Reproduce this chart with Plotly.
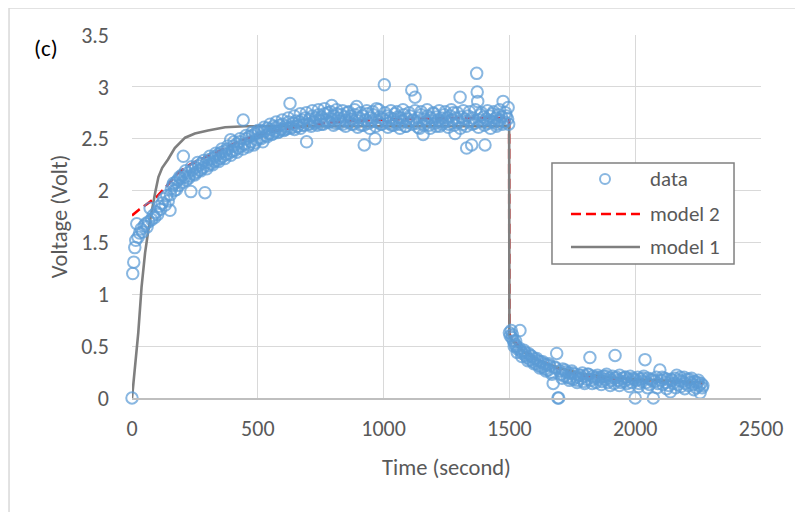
import plotly.graph_objects as go

# ---------------- data ----------------
t_data = [
    0, 3, 7, 11, 15, 19, 24, 30, 36, 42, 48, 54, 60, 66, 72, 78, 84, 90, 96, 102,
    108, 114, 120, 126, 132, 138, 144, 151, 157, 163, 169, 175, 181, 187, 193, 199, 204, 210, 216, 222,
    228, 234, 240, 246, 252, 258, 264, 270, 276, 282, 290, 296, 302, 308, 314, 320, 326, 332, 338, 344,
    350, 356, 362, 368, 374, 380, 386, 392, 398, 404, 410, 416, 422, 428, 434, 442, 448, 454, 460, 466,
    472, 478, 484, 490, 496, 502, 508, 514, 520, 526, 532, 538, 544, 550, 556, 562, 568, 574, 580, 586,
    592, 598, 604, 610, 616, 622, 628, 634, 640, 646, 652, 658, 664, 670, 676, 682, 688, 694, 700, 706,
    712, 718, 724, 730, 736, 742, 748, 754, 760, 766, 772, 778, 784, 794, 796, 802, 808, 814, 820, 826,
    832, 838, 844, 850, 856, 862, 868, 874, 880, 886, 893, 899, 905, 911, 917, 923, 929, 935, 941, 947,
    953, 959, 966, 972, 978, 984, 990, 996, 1003, 1009, 1015, 1021, 1027, 1033, 1039, 1045, 1051, 1057, 1063, 1069,
    1075, 1081, 1087, 1093, 1099, 1105, 1112, 1118, 1125, 1131, 1137, 1143, 1149, 1157, 1163, 1169, 1175, 1181, 1187, 1193,
    1199, 1205, 1211, 1217, 1223, 1229, 1235, 1241, 1247, 1253, 1259, 1265, 1271, 1277, 1284, 1290, 1296, 1304, 1310, 1316,
    1322, 1330, 1336, 1342, 1350, 1356, 1362, 1370, 1372, 1374, 1380, 1386, 1392, 1398, 1403, 1409, 1415, 1421, 1427, 1433,
    1439, 1445, 1451, 1457, 1463, 1469, 1475, 1481, 1487, 1493, 1497,
    1500, 1503, 1507, 1510, 1516, 1522, 1528, 1534, 1542, 1546, 1552, 1558, 1564, 1570, 1576, 1582, 1588, 1594, 1600, 1606,
    1612, 1618, 1624, 1630, 1636, 1642, 1648, 1654, 1660, 1666, 1674, 1680, 1688, 1693, 1696, 1700, 1706, 1712, 1718, 1724,
    1730, 1736, 1742, 1748, 1754, 1760, 1766, 1772, 1778, 1784, 1790, 1796, 1802, 1808, 1814, 1820, 1826, 1832, 1838, 1844,
    1850, 1856, 1862, 1868, 1874, 1880, 1886, 1892, 1898, 1904, 1910, 1916, 1920, 1926, 1932, 1938, 1944, 1950, 1956, 1962,
    1968, 1974, 1980, 1986, 1992, 2000, 2004, 2010, 2016, 2022, 2028, 2034, 2039, 2045, 2051, 2057, 2063, 2072, 2078, 2084,
    2090, 2098, 2104, 2110, 2116, 2122, 2128, 2134, 2140, 2146, 2152, 2158, 2165, 2170, 2176, 2182, 2188, 2194, 2200, 2206,
    2212, 2218, 2224, 2230, 2236, 2242, 2248, 2254, 2258, 2262, 2266,
    # second pass of samples (interleaved)
    153, 165, 177, 189, 201, 213, 225, 237, 249, 261, 273, 285, 297, 309, 321, 333, 345, 357, 369, 381,
    393, 405, 417, 429, 441, 453, 465, 477, 489, 501, 513, 525, 537, 549, 561, 573, 585, 597, 609, 621,
    633, 645, 657, 669, 681, 693, 705, 717, 729, 741, 753, 765, 777, 789, 801, 813, 825, 837, 849, 861,
    873, 885, 897, 909, 921, 933, 945, 957, 969, 981, 993, 1005, 1017, 1029, 1041, 1053, 1065, 1077, 1089, 1101,
    1113, 1125, 1137, 1149, 1161, 1173, 1185, 1197, 1209, 1221, 1233, 1245, 1257, 1269, 1281, 1293, 1305, 1317, 1329, 1341,
    1353, 1365, 1377, 1389, 1401, 1413, 1425, 1437, 1449, 1461, 1473, 1485, 1495,
    1512, 1519, 1525, 1531, 1540, 1549, 1561, 1573, 1585, 1597, 1609, 1621, 1633, 1645, 1657, 1669, 1683, 1709, 1721, 1739,
    1751, 1769, 1781, 1799, 1811, 1829, 1847, 1865, 1883, 1901, 1919, 1937, 1959, 1977, 1995, 2013, 2031, 2049, 2067, 2087,
    2107, 2125, 2143, 2161, 2179, 2197, 2215, 2233, 2251, 2269,
]
v_data = [
    0.00, 1.20, 1.31, 1.45, 1.52, 1.68, 1.55, 1.59, 1.63, 1.60, 1.66, 1.68, 1.65, 1.70, 1.83, 1.72, 1.76, 1.74, 1.79, 1.77,
    1.85, 1.82, 1.88, 1.92, 1.86, 1.95, 1.90, 1.81, 2.02, 2.05, 2.00, 2.08, 2.10, 2.05, 2.12, 2.15, 2.33, 2.13, 2.10, 2.17,
    2.14, 1.99, 2.20, 2.16, 2.22, 2.18, 2.24, 2.20, 2.26, 2.22, 1.98, 2.27, 2.24, 2.30, 2.26, 2.31, 2.28, 2.33, 2.29, 2.35,
    2.31, 2.37, 2.33, 2.38, 2.35, 2.40, 2.36, 2.49, 2.38, 2.43, 2.39, 2.45, 2.41, 2.47, 2.43, 2.68, 2.45, 2.50, 2.42, 2.52,
    2.47, 2.53, 2.44, 2.55, 2.49, 2.56, 2.51, 2.58, 2.47, 2.57, 2.53, 2.60, 2.55, 2.59, 2.54, 2.62, 2.57, 2.61, 2.56, 2.63,
    2.59, 2.64, 2.58, 2.62, 2.60, 2.66, 2.84, 2.61, 2.65, 2.59, 2.67, 2.62, 2.66, 2.60, 2.68, 2.63, 2.70, 2.47, 2.64, 2.69,
    2.62, 2.72, 2.66, 2.70, 2.63, 2.73, 2.67, 2.71, 2.64, 2.74, 2.68, 2.75, 2.66, 2.82, 2.69, 2.72, 2.65, 2.74, 2.70, 2.67,
    2.73, 2.64, 2.71, 2.68, 2.75, 2.66, 2.72, 2.69, 2.64, 2.73, 2.81, 2.67, 2.70, 2.63, 2.72, 2.44, 2.68, 2.74, 2.65, 2.70,
    2.67, 2.73, 2.50, 2.79, 2.66, 2.71, 2.64, 2.69, 3.02, 2.67, 2.72, 2.65, 2.70, 2.63, 2.69, 2.74, 2.66, 2.71, 2.64, 2.70,
    2.67, 2.73, 2.62, 2.69, 2.66, 2.72, 2.97, 2.68, 2.90, 2.65, 2.70, 2.60, 2.73, 2.54, 2.69, 2.66, 2.72, 2.63, 2.70, 2.67,
    2.74, 2.65, 2.71, 2.68, 2.62, 2.70, 2.66, 2.73, 2.67, 2.70, 2.64, 2.72, 2.68, 2.75, 2.55, 2.70, 2.66, 2.90, 2.71, 2.64,
    2.69, 2.41, 2.72, 2.67, 2.44, 2.70, 2.65, 3.13, 2.95, 2.86, 2.68, 2.73, 2.66, 2.71, 2.44, 2.69, 2.65, 2.72, 2.67, 2.74,
    2.66, 2.70, 2.64, 2.73, 2.68, 2.71, 2.86, 2.66, 2.72, 2.69, 2.64,
    0.63, 0.60, 0.65, 0.58, 0.55, 0.52, 0.50, 0.47, 0.65, 0.45, 0.43, 0.46, 0.41, 0.39, 0.43, 0.37, 0.40, 0.35, 0.38, 0.33,
    0.36, 0.31, 0.35, 0.30, 0.33, 0.28, 0.32, 0.27, 0.31, 0.25, 0.14, 0.30, 0.43, 0.00, 0.00, 0.26, 0.23, 0.28, 0.21, 0.25,
    0.20, 0.24, 0.19, 0.26, 0.18, 0.23, 0.20, 0.17, 0.22, 0.19, 0.24, 0.16, 0.21, 0.18, 0.23, 0.39, 0.17, 0.21, 0.19, 0.15,
    0.22, 0.18, 0.20, 0.16, 0.21, 0.18, 0.23, 0.15, 0.19, 0.17, 0.21, 0.14, 0.41, 0.20, 0.17, 0.22, 0.15, 0.19, 0.16, 0.20,
    0.14, 0.18, 0.21, 0.15, 0.19, 0.00, 0.17, 0.20, 0.14, 0.18, 0.16, 0.21, 0.37, 0.15, 0.19, 0.13, 0.18, 0.00, 0.16, 0.20,
    0.14, 0.27, 0.17, 0.13, 0.19, 0.15, 0.18, 0.12, 0.06, 0.17, 0.14, 0.19, 0.22, 0.13, 0.17, 0.11, 0.16, 0.20, 0.14, 0.18,
    0.12, 0.15, 0.19, 0.13, 0.16, 0.10, 0.15, 0.12, 0.05, 0.14, 0.10,
    # second pass of samples (interleaved)
    1.96, 2.07, 2.01, 2.13, 2.08, 2.19, 2.12, 2.23, 2.15, 2.27, 2.19, 2.29, 2.21, 2.33, 2.25, 2.36, 2.28, 2.40, 2.31, 2.43,
    2.34, 2.47, 2.37, 2.50, 2.40, 2.53, 2.44, 2.56, 2.46, 2.58, 2.50, 2.61, 2.52, 2.64, 2.55, 2.66, 2.57, 2.68, 2.59, 2.70,
    2.60, 2.72, 2.62, 2.74, 2.63, 2.75, 2.64, 2.77, 2.65, 2.78, 2.64, 2.79, 2.66, 2.76, 2.63, 2.78, 2.65, 2.77, 2.62, 2.76,
    2.64, 2.78, 2.61, 2.75, 2.63, 2.77, 2.60, 2.76, 2.62, 2.78, 2.64, 2.75, 2.61, 2.77, 2.63, 2.76, 2.60, 2.78, 2.62, 2.75,
    2.64, 2.77, 2.61, 2.76, 2.63, 2.78, 2.60, 2.75, 2.62, 2.77, 2.64, 2.76, 2.61, 2.78, 2.63, 2.75, 2.60, 2.77, 2.62, 2.76,
    2.64, 2.78, 2.61, 2.75, 2.63, 2.77, 2.60, 2.76, 2.62, 2.78, 2.64, 2.75, 2.80,
    0.61, 0.50, 0.55, 0.44, 0.48, 0.40, 0.44, 0.36, 0.41, 0.33, 0.38, 0.29, 0.35, 0.26, 0.33, 0.23, 0.29, 0.19, 0.27, 0.17,
    0.24, 0.15, 0.22, 0.14, 0.23, 0.14, 0.20, 0.13, 0.21, 0.12, 0.19, 0.12, 0.20, 0.11, 0.18, 0.11, 0.19, 0.10, 0.17, 0.10,
    0.20, 0.09, 0.18, 0.10, 0.20, 0.09, 0.18, 0.08, 0.17, 0.12,
]

t_model1 = [0, 12, 25, 38, 52, 65, 78, 92, 105, 120, 143, 170, 211, 250, 302, 370, 450, 600, 800, 1000,
            1200, 1400, 1499, 1500, 1510, 1530, 1560, 1600, 1650, 1700, 1800, 1900, 2000, 2100, 2200, 2270]
v_model1 = [0.00, 0.30, 0.63, 1.07, 1.40, 1.62, 1.81, 1.98, 2.13, 2.22, 2.30, 2.41, 2.51, 2.55, 2.58, 2.61, 2.62, 2.62, 2.62, 2.62,
            2.62, 2.62, 2.62, 0.60, 0.56, 0.50, 0.44, 0.38, 0.33, 0.29, 0.23, 0.20, 0.18, 0.17, 0.16, 0.15]

t_model2 = [0, 30, 60, 98, 140, 183, 230, 280, 337, 390, 429, 480, 540, 600, 680, 760, 850, 950, 1100, 1300,
            1499, 1500, 1510, 1542, 1580, 1620, 1661, 1720, 1781, 1850, 1950, 2019, 2112, 2200, 2270]
v_model2 = [1.76, 1.82, 1.87, 1.94, 2.05, 2.17, 2.25, 2.31, 2.37, 2.43, 2.48, 2.52, 2.56, 2.59, 2.62, 2.65, 2.67, 2.68, 2.69, 2.70,
            2.70, 0.62, 0.57, 0.49, 0.42, 0.36, 0.32, 0.26, 0.22, 0.20, 0.18, 0.17, 0.16, 0.15, 0.14]

series_names = ["data", "model 2", "model 1"]
x_ticks = [0, 500, 1000, 1500, 2000, 2500]
y_ticks = [0, 0.5, 1, 1.5, 2, 2.5, 3, 3.5]
y_tick_labels = ["0", "0.5", "1", "1.5", "2", "2.5", "3", "3.5"]

FONT = "Carlito, Calibri, Lato, sans-serif"
GRAY_TXT = "#595959"
BLUE = "rgba(91,155,213,0.72)"
RED = "#FF0000"
GRAY_LINE = "#7F7F7F"
DASH = "10px,5px"

fig = go.Figure()
fig.add_trace(go.Scatter(
    x=t_model2, y=v_model2, mode="lines", name=series_names[1],
    line=dict(color=RED, width=2.6, dash=DASH),
))
fig.add_trace(go.Scatter(
    x=t_model1, y=v_model1, mode="lines", name=series_names[2],
    line=dict(color=GRAY_LINE, width=2.6),
))
fig.add_trace(go.Scatter(
    x=t_data, y=v_data, mode="markers", name=series_names[0], cliponaxis=False,
    marker=dict(symbol="circle-open", size=11.5, color=BLUE, line=dict(width=2, color=BLUE)),
))

# legend box (Excel-style, drawn in paper coordinates)
LX0, LX1, LY0, LY1 = 0.6677, 0.9571, 0.3691, 0.6474
row_y = [0.6033, 0.5069, 0.4160]
sym_x0, sym_x1, sym_xc, txt_x = 0.6979, 0.8076, 0.752, 0.8203

shapes = [
    dict(type="rect", xref="paper", yref="paper", x0=-0.1955, x1=1.5, y0=-1.0, y1=1.0744,
         line=dict(color="#D9D9D9", width=1.5), fillcolor="rgba(0,0,0,0)", layer="below"),
    dict(type="rect", xref="paper", yref="paper", x0=LX0, x1=LX1, y0=LY0, y1=LY1,
         line=dict(color="#808080", width=1.5), fillcolor="white", layer="above"),
    dict(type="circle", xref="paper", yref="paper", xsizemode="pixel", ysizemode="pixel",
         xanchor=sym_xc, yanchor=row_y[0], x0=-5, x1=5, y0=-5, y1=5,
         line=dict(color=BLUE, width=2), fillcolor="rgba(0,0,0,0)"),
    dict(type="line", xref="paper", yref="paper", x0=sym_x0, x1=sym_x1, y0=row_y[1], y1=row_y[1],
         line=dict(color=RED, width=2.6, dash=DASH)),
    dict(type="line", xref="paper", yref="paper", x0=sym_x0, x1=sym_x1, y0=row_y[2], y1=row_y[2],
         line=dict(color=GRAY_LINE, width=2.6)),
]
annotations = [dict(text="(c)", xref="paper", yref="paper", x=-0.1367, y=0.964, xanchor="center",
                    yanchor="middle", showarrow=False, font=dict(family=FONT, size=23, color="black"))]
for name, yy in zip(series_names, row_y):
    annotations.append(dict(text=name, xref="paper", yref="paper", x=txt_x, y=yy, xanchor="left",
                            yanchor="middle", showarrow=False,
                            font=dict(family=FONT, size=21, color=GRAY_TXT)))

fig.update_layout(
    width=795, height=504,
    margin=dict(l=124, r=42, t=27, b=114),
    paper_bgcolor="white", plot_bgcolor="white",
    font=dict(family=FONT, size=22, color=GRAY_TXT),
    showlegend=False,
    xaxis=dict(
        range=[0, 2500], tickvals=x_ticks, showgrid=True, gridcolor="#D9D9D9", gridwidth=1.3,
        zeroline=False, showline=True, linecolor="#BFBFBF", linewidth=1.5, ticks="",
        ticklabelstandoff=10, tickfont=dict(size=22),
        title=dict(text="Time (second)", font=dict(size=22.5, color=GRAY_TXT), standoff=18),
    ),
    yaxis=dict(
        range=[0, 3.5], tickvals=y_ticks, ticktext=y_tick_labels, showgrid=True, gridcolor="#D9D9D9",
        gridwidth=1.3, zeroline=False, showline=False, ticks="", ticklabelstandoff=22,
        tickfont=dict(size=22),
        title=dict(text="Voltage (Volt)", font=dict(size=22.5, color=GRAY_TXT), standoff=7),
    ),
    shapes=shapes,
    annotations=annotations,
)

fig.write_html("out.html")
